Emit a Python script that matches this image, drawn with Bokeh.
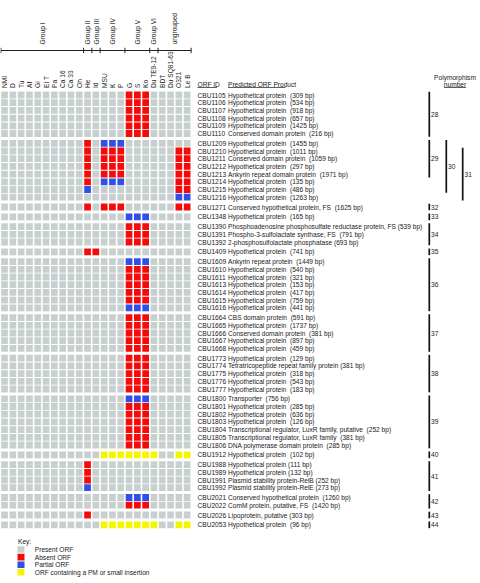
import numpy as np
from bokeh.plotting import figure
from bokeh.models import Range1d, ColumnDataSource
from bokeh.core.properties import value
from bokeh.embed import file_html
from bokeh.resources import INLINE

# ---------------- data ----------------
strains = ["NMI", "D", "Tu", "Af", "Gi", "EI T", "Pa", "Ca 16", "Ca 33", "Oh",
           "He", "Id", "MSU", "K", "P", "G", "S", "Ko", "Du TE9-12", "BDT",
           "Du SQ81-63", "O321", "Le B"]
groups = ["Group I", "Group II", "Group III", "Group IV", "Group V", "Group VI", "ungrouped"]
group_bounds = [0, 10, 11, 12, 15, 18, 19, 23]

orf_ids = ["CBU1105", "CBU1106", "CBU1107", "CBU1108", "CBU1109", "CBU1110",
           "CBU1209", "CBU1210", "CBU1211", "CBU1212", "CBU1213", "CBU1214", "CBU1215", "CBU1216",
           "CBU1271", "CBU1348", "CBU1390", "CBU1391", "CBU1392", "CBU1409",
           "CBU1609", "CBU1610", "CBU1611", "CBU1613", "CBU1614", "CBU1615", "CBU1616",
           "CBU1664", "CBU1665", "CBU1666", "CBU1667", "CBU1668",
           "CBU1773", "CBU1774", "CBU1775", "CBU1776", "CBU1777",
           "CBU1800", "CBU1801", "CBU1802", "CBU1803", "CBU1804", "CBU1805", "CBU1806",
           "CBU1912", "CBU1988", "CBU1989", "CBU1991", "CBU1992",
           "CBU2021", "CBU2022", "CBU2026", "CBU2053"]

S2 = " \u00a0"
products = [
    "Hypothetical protein" + S2 + "(309 bp)",
    "Hypothetical protein" + S2 + "(534 bp)",
    "Hypothetical protein" + S2 + "(918 bp)",
    "Hypothetical protein" + S2 + "(657 bp)",
    "Hypothetical protein" + S2 + "(1425 bp)",
    "Conserved domain protein" + S2 + "(216 bp)",
    "Hypothetical protein" + S2 + "(1455 bp)",
    "Hypothetical protein" + S2 + "(1011 bp)",
    "Conserved domain protein" + S2 + "(1059 bp)",
    "Hypothetical protein" + S2 + "(297 bp)",
    "Ankyrin repeat domain protein" + S2 + "(1971 bp)",
    "Hypothetical protein" + S2 + "(135 bp)",
    "Hypothetical protein" + S2 + "(486 bp)",
    "Hypothetical protein" + S2 + "(1263 bp)",
    "Conserved hypothetical protein, FS" + S2 + "(1625 bp)",
    "Hypothetical protein" + S2 + "(165 bp)",
    "Phosphoadenosine phosphosulfate reductase protein, FS (539 bp)",
    "Phospho-3-sulfolactate synthase, FS" + S2 + "(791 bp)",
    "2-phosphosulfolactate phosphatase (693 bp)",
    "Hypothetical protein" + S2 + "(741 bp)",
    "Ankyrin repeat protein" + S2 + "(1449 bp)",
    "Hypothetical protein" + S2 + "(540 bp)",
    "Hypothetical protein" + S2 + "(321 bp)",
    "Hypothetical protein" + S2 + "(153 bp)",
    "Hypothetical protein" + S2 + "(417 bp)",
    "Hypothetical protein" + S2 + "(759 bp)",
    "Hypothetical protein" + S2 + "(441 bp)",
    "CBS domain protein" + S2 + "(591 bp)",
    "Hypothetical protein" + S2 + "(1737 bp)",
    "Conserved domain protein" + S2 + "(381 bp)",
    "Hypothetical protein" + S2 + "(897 bp)",
    "Hypothetical protein" + S2 + "(459 bp)",
    "Hypothetical protein" + S2 + "(129 bp)",
    "Tetratricopeptide repeat family protein (381 bp)",
    "Hypothetical protein" + S2 + "(318 bp)",
    "Hypothetical protein" + S2 + "(543 bp)",
    "Hypothetical protein" + S2 + "(183 bp)",
    "Transporter" + S2 + "(756 bp)",
    "Hypothetical protein" + S2 + "(285 bp)",
    "Hypothetical protein" + S2 + "(636 bp)",
    "Hypothetical protein" + S2 + "(126 bp)",
    "Transcriptional regulator, LuxR family, putative" + S2 + "(252 bp)",
    "Transcriptional regulator, LuxR family" + S2 + "(381 bp)",
    "DNA polymerase domain protein" + S2 + "(285 bp)",
    "Hypothetical protein" + S2 + "(102 bp)",
    "Hypothetical protein (111 bp)",
    "Hypothetical protein (132 bp)",
    "Plasmid stability protein-RelB (252 bp)",
    "Plasmid stability protein-RelE (273 bp)",
    "Conserved hypothetical protein" + S2 + "(1260 bp)",
    "ComM protein, putative, FS" + S2 + "(1420 bp)",
    "Lipoprotein, putative (303 bp)",
    "Hypothetical protein" + S2 + "(96 bp)",
]

# status per ORF across the 23 strains: . present, A absent, P partial, M PM/small insertion
GSK_A = "...............AAA....."
GSK_P = "...............PPP....."
HE_A = "..........A............"
YEL = "............MMMMMMM..MM"
status = [GSK_A] * 6 + [
    "..........A.PPP........",
    "..........A.AAA......AA",
    "..........A.AAA......AA",
    "..........A.AAA......AA",
    "..........A.AAA......AA",
    "..........A.PPP......AA",
    "..........P..........AA",
    ".....................PP",
    "..........A.AAA......AA",
    GSK_P,
    GSK_A, GSK_A, GSK_A,
    "..........AA...........",
    GSK_P, GSK_A, GSK_A, GSK_A, GSK_A, GSK_A, GSK_P,
    GSK_A, GSK_A, GSK_A, GSK_A, GSK_A,
    GSK_A, GSK_A, GSK_A, GSK_A, GSK_A,
    GSK_P, GSK_A, GSK_A, GSK_A, GSK_A, GSK_A, GSK_A,
    YEL,
    HE_A, HE_A, HE_A, "..........P............",
    GSK_P, GSK_A,
    HE_A,
    YEL,
]

block_sizes = [6, 8, 1, 1, 3, 1, 7, 5, 5, 7, 1, 4, 2, 1, 1]

poly_numbers = [28, 29, 30, 31, 32, 33, 34, 35, 36, 37, 38, 39, 40, 41, 42, 43, 44]
poly_first = ["CBU1105", "CBU1209", "CBU1209", "CBU1210", "CBU1271", "CBU1348", "CBU1390",
              "CBU1409", "CBU1609", "CBU1664", "CBU1773", "CBU1800", "CBU1912", "CBU1988",
              "CBU2021", "CBU2026", "CBU2053"]
poly_last = ["CBU1110", "CBU1213", "CBU1215", "CBU1216", "CBU1271", "CBU1348", "CBU1392",
             "CBU1409", "CBU1616", "CBU1668", "CBU1777", "CBU1806", "CBU1912", "CBU1992",
             "CBU2022", "CBU2026", "CBU2053"]
poly_level = [0, 0, 1, 2, 0, 0, 0, 0, 0, 0, 0, 0, 0, 0, 0, 0, 0]

key_labels = ["Present ORF", "Absent ORF", "Partial ORF", "ORF containing a PM or small insertion"]
key_codes = [".", "A", "P", "M"]

# ---------------- style / layout ----------------
colors = {".": "#c8d0cf", "A": "#f50a0a", "P": "#2f4fe8", "M": "#f5f500"}
FONT = value("Liberation Sans")
FS = "6.6px"
TXT = "#1a1a1a"

X0, DX, CELL = 4.05, 8.3, 6.7
Y0, DY, GAP = 94.5, 7.7, 2.1

row_y = []
r = 0
for b, n in enumerate(block_sizes):
    for _ in range(n):
        row_y.append(Y0 + r * DY + b * GAP)
        r += 1
row_y = np.array(row_y)
col_x = X0 + DX * np.arange(len(strains))

p = figure(width=480, height=583, x_range=Range1d(0, 480), y_range=Range1d(-583, 0),
           output_backend="svg", toolbar_location=None, min_border=0,
           x_axis_location=None, y_axis_location=None)
p.grid.visible = False
p.outline_line_color = None
p.background_fill_color = "white"

# cells
cx, cy, cc = [], [], []
for i, s in enumerate(status):
    for j, ch in enumerate(s):
        cx.append(col_x[j]); cy.append(-row_y[i]); cc.append(colors[ch])
p.rect(x="x", y="y", width=CELL, height=CELL + 0.1, fill_color="c", line_color=None,
       source=ColumnDataSource(dict(x=cx, y=cy, c=cc)))

# strain labels
p.text(x=col_x, y=[-87.5] * len(strains), text=strains, angle=np.pi / 2,
       text_align="left", text_baseline="middle", text_font=FONT,
       text_font_size=FS, text_color=TXT)

# group line with ticks
gb = np.array(group_bounds)
tick_x = 0.4 + gb * 8.27
p.segment(x0=[tick_x[0]], y0=[-50], x1=[tick_x[-1]], y1=[-50], line_color="#222", line_width=1)
p.segment(x0=tick_x, y0=[-47.3] * len(tick_x), x1=tick_x, y1=[-52.7] * len(tick_x),
          line_color="#222", line_width=1)
gcx = (tick_x[:-1] + tick_x[1:]) / 2
p.text(x=gcx, y=[-44] * len(groups), text=groups, angle=np.pi / 2,
       text_align="left", text_baseline="middle", text_font=FONT,
       text_font_size=FS, text_color=TXT)

# ORF ids and products
p.text(x=[197] * len(orf_ids), y=-row_y, text=orf_ids, text_align="left",
       text_baseline="middle", text_font=FONT, text_font_size=FS, text_color=TXT)
p.text(x=[227.5] * len(products), y=-row_y, text=products, text_align="left",
       text_baseline="middle", text_font=FONT, text_font_size=FS, text_color=TXT)

# headers
p.text(x=[197, 227.5], y=[-83.5, -83.5], text=["ORF ID", "Predicted ORF Product"],
       text_align="left", text_baseline="middle", text_font=FONT,
       text_font_size=FS, text_color=TXT)
p.segment(x0=[197, 227.5], y0=[-87, -87], x1=[216.5, 285], y1=[-87, -87],
          line_color=TXT, line_width=0.7)
p.text(x=[454.5, 454.5], y=[-76.5, -83.5], text=["Polymorphism", "number"],
       text_align="center", text_baseline="middle", text_font=FONT,
       text_font_size=FS, text_color=TXT)
p.segment(x0=[443.5], y0=[-87], x1=[465.5], y1=[-87], line_color=TXT, line_width=0.7)

# polymorphism brackets
idx = {o: i for i, o in enumerate(orf_ids)}
LX = [428.8, 445.8, 462.2]
bx, by0, by1, ly = [], [], [], []
for f, l, lv in zip(poly_first, poly_last, poly_level):
    top = row_y[idx[f]] - CELL / 2
    bot = row_y[idx[l]] + CELL / 2
    bx.append(LX[lv]); by0.append(-top); by1.append(-bot); ly.append(-(top + bot) / 2)
p.segment(x0=bx, y0=by0, x1=bx, y1=by1, line_color="#111", line_width=1.7)
p.text(x=[b + 1.8 for b in bx], y=ly, text=[str(n) for n in poly_numbers],
       text_align="left", text_baseline="middle", text_font=FONT,
       text_font_size=FS, text_color=TXT)

# key
p.text(x=[17.5], y=[-540.5], text=["Key:"], text_align="left", text_baseline="middle",
       text_font=FONT, text_font_size=FS, text_color=TXT)
ky = -(549.0 + 7.6 * np.arange(len(key_labels)))
p.rect(x=[20.5] * len(key_codes), y=ky, width=7, height=6.6,
       fill_color=[colors[c] for c in key_codes], line_color=None)
p.text(x=[34.3] * len(key_labels), y=ky, text=key_labels, text_align="left",
       text_baseline="middle", text_font=FONT, text_font_size=FS, text_color=TXT)

open("out.html", "w").write(file_html(p, INLINE))
